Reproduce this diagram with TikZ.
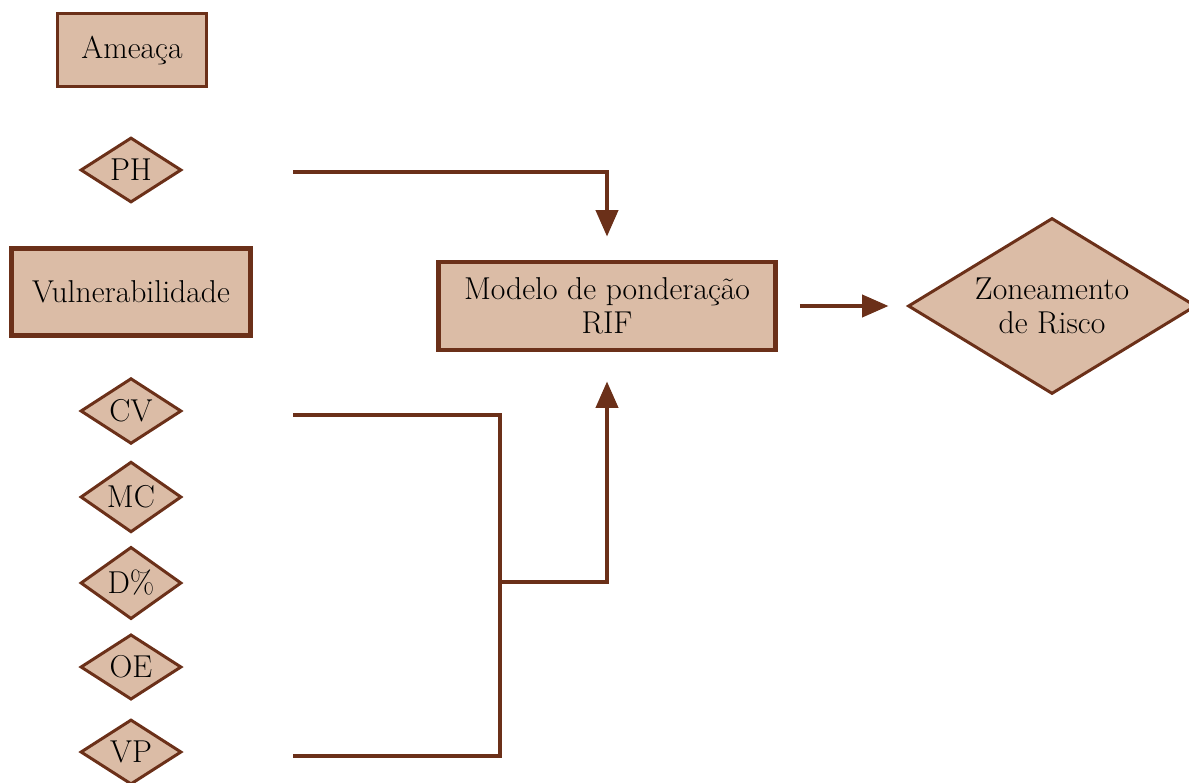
\documentclass[tikz,border=0pt]{standalone}
\usepackage{tikz}
\usetikzlibrary{positioning,shapes.geometric,arrows.meta}

\definecolor{riskfill}{HTML}{DBBCA6}
\definecolor{riskline}{HTML}{6B3019}

\begin{document}
\begin{tikzpicture}[
    x=0.02cm, y=-0.02cm,
    font=\fontsize{18}{19.5}\selectfont,
    block/.style={
        draw=riskline,
        fill=riskfill,
        line width=1.7pt,
        inner sep=0pt,
        align=center
    },
    factor/.style={
        diamond,
        draw=riskline,
        fill=riskfill,
        line width=1.7pt,
        inner sep=0pt,
        align=center,
        minimum width=2.02cm,
        minimum height=1.30cm
    },
    link/.style={draw=riskline, line width=2.2pt},
    arrow/.style={link, -{Triangle[length=15pt,width=12.5pt]}}
]
\useasboundingbox (0,0) rectangle (1189,783);

\node[block, minimum width=2.98cm, minimum height=1.46cm] (ameaca) at (132,50) {Amea\c{c}a};
\node[factor] (ph) at (131,170) {PH};

\node[block, line width=2.8pt, minimum width=4.78cm, minimum height=1.74cm] (vuln) at (131,292) {Vulnerabilidade};
\node[factor] (cv) at (131,411) {CV};
\node[factor] (mc) at (131,497) {MC};
\node[factor] (dpct) at (131,583) {D\%};
\node[factor] (oe) at (131,667) {OE};
\node[factor] (vp) at (131,752) {VP};

\node[block, line width=2.8pt, minimum width=6.74cm, minimum height=1.76cm] (rif) at (607,306) {Modelo de pondera\c{c}\~ao\\RIF};
\node[factor, shape aspect=1.6, minimum width=5.76cm, minimum height=3.52cm] (zona) at (1052,306) {Zoneamento\\de Risco};

% free ends of the connectors
\coordinate (ph-out) at (293,172);
\coordinate (cv-out) at (293,415);
\coordinate (vp-out) at (293,756);
\coordinate (merge) at (500,582);

\draw[arrow, shorten >=0.46cm] (ph-out) -| (rif.north);
\draw[link] (cv-out) -| (merge) |- (vp-out);
\draw[arrow, shorten >=0.58cm] (merge) -| (rif.south);
\draw[arrow, shorten <=0.44cm, shorten >=0.36cm] (rif) -- (zona);

\end{tikzpicture}
\end{document}
